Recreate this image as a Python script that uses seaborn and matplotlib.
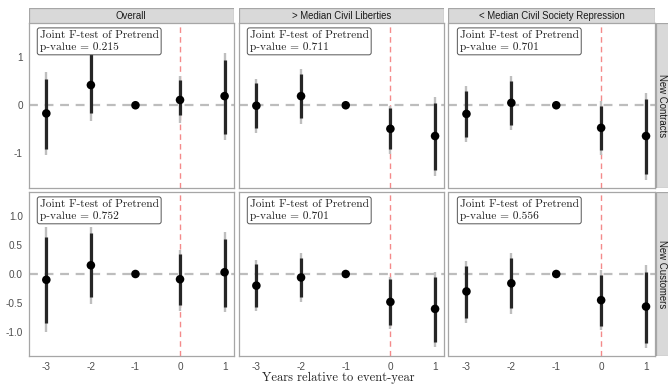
import numpy as np
import pandas as pd
import matplotlib
matplotlib.use("Agg")
import matplotlib.pyplot as plt
from matplotlib.patches import Rectangle
import seaborn as sns

# event-time grid
years = [-3, -2, -1, 0, 1]
groups = ["Overall", "> Median Civil Liberties", "< Median Civil Society Repression"]
outcomes = ["New Contracts", "New Customers"]

# New Contracts (one list per group)
contracts_est = [[-0.17, 0.42, 0.0, 0.11, 0.19],
                 [-0.01, 0.19, 0.0, -0.49, -0.64],
                 [-0.18, 0.05, 0.0, -0.47, -0.64]]
contracts_in_lo = [[-0.90, -0.17, 0.0, -0.20, -0.59],
                   [-0.48, -0.27, 0.0, -0.90, -1.35],
                   [-0.65, -0.41, 0.0, -0.93, -1.42]]
contracts_in_hi = [[0.55, 1.07, 0.0, 0.53, 0.95],
                   [0.46, 0.66, 0.0, -0.06, 0.04],
                   [0.30, 0.51, 0.0, -0.01, 0.12]]
contracts_out_lo = [[-1.03, -0.32, 0.0, -0.37, -0.72],
                    [-0.58, -0.38, 0.0, -1.01, -1.47],
                    [-0.76, -0.51, 0.0, -1.04, -1.55]]
contracts_out_hi = [[0.69, 1.20, 0.0, 0.61, 1.09],
                    [0.54, 0.75, 0.0, -0.01, 0.18],
                    [0.39, 0.61, 0.0, 0.08, 0.26]]

# New Customers
customers_est = [[-0.10, 0.15, 0.0, -0.09, 0.03],
                 [-0.20, -0.06, 0.0, -0.48, -0.60],
                 [-0.30, -0.16, 0.0, -0.45, -0.56]]
customers_in_lo = [[-0.85, -0.40, 0.0, -0.53, -0.56],
                   [-0.56, -0.40, 0.0, -0.87, -1.17],
                   [-0.75, -0.59, 0.0, -0.90, -1.18]]
customers_in_hi = [[0.64, 0.70, 0.0, 0.34, 0.61],
                   [0.17, 0.28, 0.0, -0.09, -0.06],
                   [0.14, 0.27, 0.0, -0.02, 0.04]]
customers_out_lo = [[-0.99, -0.51, 0.0, -0.63, -0.65],
                    [-0.63, -0.48, 0.0, -0.95, -1.26],
                    [-0.84, -0.68, 0.0, -0.97, -1.28]]
customers_out_hi = [[0.80, 0.80, 0.0, 0.41, 0.72],
                    [0.24, 0.36, 0.0, -0.05, 0.04],
                    [0.23, 0.36, 0.0, 0.07, 0.16]]

pvalues = [["0.215", "0.711", "0.701"],
           ["0.752", "0.701", "0.556"]]

# build long table
rows = []
for oi, (est, ilo, ihi, olo, ohi) in enumerate([
        (contracts_est, contracts_in_lo, contracts_in_hi, contracts_out_lo, contracts_out_hi),
        (customers_est, customers_in_lo, customers_in_hi, customers_out_lo, customers_out_hi)]):
    for gi in range(3):
        for k, yr in enumerate(years):
            rows.append(dict(outcome=outcomes[oi], group=groups[gi], year=yr,
                             est=est[gi][k], in_lo=ilo[gi][k], in_hi=ihi[gi][k],
                             out_lo=olo[gi][k], out_hi=ohi[gi][k]))
df = pd.DataFrame(rows)

sns.set_style("white")
plt.rcParams["axes.unicode_minus"] = False
plt.rcParams["font.family"] = ["Liberation Sans", "DejaVu Sans"]

W, H = 668, 385
fig = plt.figure(figsize=(W / 100, H / 100), dpi=100)

col_x = [(28.5, 233.5), (238.5, 444), (448.5, 655)]
row_y = [(23, 187.5), (192, 356)]
ylims = [(-1.71, 1.71), (-1.41, 1.41)]
yticks = [[-1, 0, 1], [-1.0, -0.5, 0.0, 0.5, 1.0]]
ytlabels = [["-1", "0", "1"], ["-1.0", "-0.5", "0.0", "0.5", "1.0"]]
edge = "#A6A6A6"
serif = ["cmr10", "DejaVu Serif"]


def fig_rect(x0, y0, x1, y1):
    return [x0 / W, 1 - y1 / H, (x1 - x0) / W, (y1 - y0) / H]


for ri, outcome in enumerate(outcomes):
    for ci, group in enumerate(groups):
        x0, x1 = col_x[ci]
        y0, y1 = row_y[ri]
        ax = fig.add_axes(fig_rect(x0, y0, x1, y1))
        sub = df[(df.outcome == outcome) & (df.group == group)]

        ax.axhline(0, color="#BDBDBD", lw=1.6, ls=(0, (4, 3)), zorder=1)
        ax.axvline(0, color="#F48A8A", lw=1.0, ls=(0, (4, 3)), zorder=1)
        ax.vlines(sub.year, sub.out_lo, sub.out_hi, color="#BEBEBE", lw=1.7, zorder=2)
        ax.vlines(sub.year, sub.in_lo, sub.in_hi, color="#262626", lw=2.3, zorder=3)
        sns.scatterplot(data=sub, x="year", y="est", ax=ax, color="black", s=38,
                        edgecolor="none", zorder=4, legend=False)

        ax.set_xlim(-3.4, 1.2)
        ax.set_ylim(*ylims[ri])
        ax.set_xlabel("")
        ax.set_ylabel("")
        for sp in ax.spines.values():
            sp.set_color(edge)
            sp.set_linewidth(0.9)
        ax.set_xticks(years)
        ax.set_yticks(yticks[ri])
        ax.tick_params(colors="#4D4D4D", labelsize=7.2, length=2.5, width=0.6,
                       pad=1.5, labelcolor="#4D4D4D")
        if ci == 0:
            ax.set_yticklabels(ytlabels[ri])
        else:
            ax.tick_params(axis="y", left=False, labelleft=False)
        if ri == 1:
            ax.set_xticklabels([str(v) for v in years])
        else:
            ax.tick_params(axis="x", bottom=False, labelbottom=False)

        ax.text(0.055, 0.955, "Joint F-test of Pretrend\np-value = " + pvalues[ri][ci],
                transform=ax.transAxes, ha="left", va="top", fontsize=8.2,
                family=serif, linespacing=1.3, color="#222222", zorder=5,
                bbox=dict(boxstyle="round,pad=0.22,rounding_size=0.2",
                          fc="white", ec="#555555", lw=0.7))

        # column strips on top
        if ri == 0:
            sax = fig.add_axes(fig_rect(x0, 7.5, x1, 23))
            sax.add_patch(Rectangle((0, 0), 1, 1, transform=sax.transAxes,
                                    fc="#D9D9D9", ec=edge, lw=0.9))
            sax.text(0.5, 0.45, group, ha="center", va="center", fontsize=6.9,
                     color="#1A1A1A")
            sax.axis("off")
    # row strips on right
    sax = fig.add_axes(fig_rect(655.5, row_y[ri][0], 669, row_y[ri][1]))
    sax.add_patch(Rectangle((0, 0), 1, 1, transform=sax.transAxes,
                            fc="#D9D9D9", ec=edge, lw=0.9))
    sax.text(0.5, 0.5, outcome, ha="center", va="center", rotation=-90,
             fontsize=6.9, color="#1A1A1A")
    sax.axis("off")

fig.text(338 / W, 1 - 378 / H, "Years relative to event-year", ha="center",
         va="center", fontsize=9, family=serif, color="#222222")

fig.savefig("out.png", dpi=100)
